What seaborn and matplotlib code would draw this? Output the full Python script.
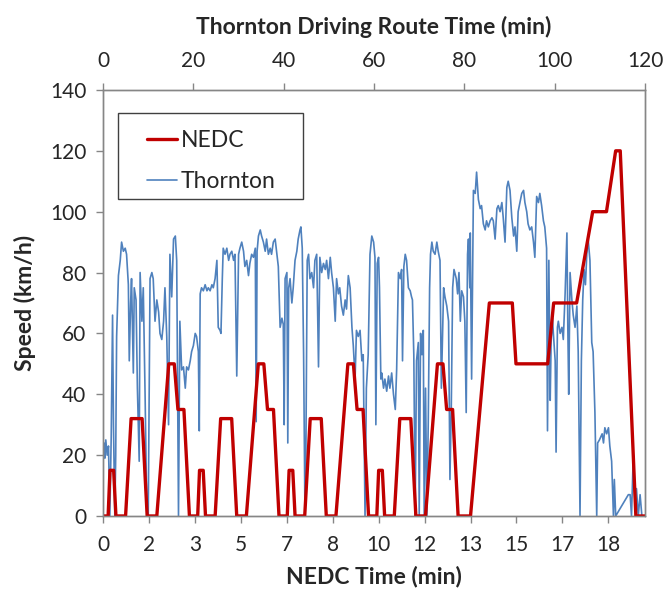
import numpy as np
import pandas as pd
import matplotlib
matplotlib.use("Agg")
import matplotlib.pyplot as plt
import seaborn as sns
from matplotlib.patches import Rectangle
from matplotlib.ticker import FuncFormatter, MultipleLocator


# NEDC cycle breakpoints: time (s) and speed (km/h)
nedc_s = [0, 11, 15, 23, 28, 49, 61, 85, 96, 117, 143, 155, 163, 176, 188,
          195, 206, 210, 218, 223, 244, 256, 280, 291, 312, 338, 350, 358, 371, 383,
          390, 401, 405, 413, 418, 439, 451, 475, 486, 507, 533, 545, 553, 566, 578,
          585, 596, 600, 608, 613, 634, 646, 670, 681, 702, 728, 740, 748, 761, 773,
          780, 800, 841, 891, 899, 968, 981, 1031, 1066, 1096, 1116, 1126, 1160, 1180]
nedc_v = [0, 0, 15, 15, 0, 0, 32, 32, 0, 0, 50, 50, 35, 35, 0,
          0, 0, 15, 15, 0, 0, 32, 32, 0, 0, 50, 50, 35, 35, 0,
          0, 0, 15, 15, 0, 0, 32, 32, 0, 0, 50, 50, 35, 35, 0,
          0, 0, 15, 15, 0, 0, 32, 32, 0, 0, 50, 50, 35, 35, 0,
          0, 0, 70, 70, 50, 50, 70, 70, 100, 100, 120, 120, 0, 0]

# Thornton route: time (min) and speed (km/h)
thornton_t = [0.0, 0.2, 0.4, 0.6, 0.9, 1.2, 1.5, 1.8, 2.1, 2.3, 2.6, 2.8, 3.0, 3.4, 3.8,
              4.1, 4.5, 4.9, 5.2, 5.6, 5.8, 6.1, 6.3, 6.7, 6.9, 7.3, 7.6, 8.0, 8.2, 8.6,
              8.9, 9.3, 9.7, 10.0, 10.4, 10.8, 11.1, 11.5, 11.9, 12.3, 12.6, 13.0, 13.4, 13.7, 14.1,
              14.5, 14.8, 15.2, 15.6, 16.0, 16.3, 16.7, 17.0, 17.4, 17.8, 18.2, 18.5, 18.9, 19.3, 19.6,
              20.0, 20.4, 20.7, 21.1, 21.3, 21.5, 21.8, 22.2, 22.6, 23.0, 23.3, 23.7, 24.1, 24.4, 24.8,
              25.2, 25.5, 25.9, 26.1, 26.4, 26.6, 27.0, 27.4, 27.8, 28.1, 28.5, 28.9, 29.2, 29.6, 30.0,
              30.3, 30.7, 31.1, 31.4, 31.8, 32.2, 32.5, 32.9, 33.3, 33.7, 33.9, 34.1, 34.4, 34.8, 35.1,
              35.5, 35.9, 36.2, 36.6, 37.0, 37.3, 37.7, 38.1, 38.5, 38.8, 39.2, 39.6, 39.9, 40.1, 40.3,
              40.7, 40.9, 41.1, 41.4, 41.8, 42.1, 42.5, 42.9, 43.2, 43.6, 43.8, 44.1, 44.4, 44.7, 44.9,
              45.2, 45.5, 45.8, 46.2, 46.6, 46.9, 47.3, 47.7, 48.0, 48.4, 48.8, 49.2, 49.5, 49.9, 50.3,
              50.6, 51.0, 51.4, 51.7, 52.1, 52.4, 52.8, 53.2, 53.6, 53.9, 54.3, 54.7, 55.1, 55.4, 55.8,
              56.1, 56.5, 56.9, 57.3, 57.6, 58.0, 58.3, 58.7, 59.1, 59.5, 59.9, 60.2, 60.4, 60.7, 61.0,
              61.2, 61.5, 61.7, 62.1, 62.4, 62.8, 63.2, 63.5, 63.9, 64.3, 64.7, 65.0, 65.4, 65.8, 66.1,
              66.3, 66.6, 66.9, 67.2, 67.6, 68.0, 68.3, 68.5, 68.8, 69.1, 69.4, 69.8, 70.0, 70.3, 70.6,
              70.9, 71.1, 71.4, 71.7, 72.0, 72.3, 72.5, 72.8, 73.1, 73.5, 73.9, 74.2, 74.6, 74.9, 75.4,
              75.7, 76.1, 76.5, 76.8, 77.1, 77.4, 77.7, 78.2, 78.5, 78.8, 79.1, 79.4, 79.8, 80.1, 80.4,
              80.7, 80.9, 81.2, 81.3, 81.6, 82.0, 82.4, 82.7, 83.1, 83.5, 83.8, 84.2, 84.6, 84.9, 85.3,
              85.7, 86.1, 86.4, 86.8, 87.2, 87.5, 87.9, 88.3, 88.6, 89.0, 89.4, 89.7, 90.1, 90.5, 90.9,
              91.2, 91.6, 91.9, 92.3, 92.7, 93.1, 93.4, 93.8, 94.1, 94.5, 94.9, 95.3, 95.6, 96.0, 96.4,
              96.7, 97.1, 97.5, 97.8, 98.2, 98.4, 98.7, 99.0, 99.2, 99.5, 99.7, 100.1, 100.3, 100.6, 100.8,
              101.2, 101.6, 101.9, 102.3, 102.7, 102.9, 103.1, 103.4, 103.8, 104.1, 104.5, 104.9, 105.2, 105.6, 105.9,
              106.2, 106.5, 106.8, 107.1, 107.4, 107.8, 108.2, 108.5, 108.9, 109.3, 109.5, 109.9, 110.2, 110.5, 110.8,
              111.1, 111.5, 111.9, 112.2, 112.6, 113.0, 113.2, 113.5, 116.3, 116.7, 117.0, 117.4, 117.8, 118.1, 118.5,
              118.9, 119.3]
thornton_v = [22, 24, 19, 25, 20, 23, 0, 26, 66, 30, 0, 20, 59, 79, 84,
              90, 87, 88, 86, 76, 51, 70, 78, 47, 75, 71, 42, 18, 80, 64,
              75, 40, 0, 0, 78, 80, 78, 64, 71, 67, 60, 58, 64, 75, 59,
              30, 86, 72, 91, 92, 84, 0, 64, 48, 49, 42, 49, 48, 51, 54,
              56, 60, 59, 54, 28, 73, 75, 74, 76, 74, 75, 74, 76, 75, 78,
              84, 62, 61, 60, 78, 88, 86, 88, 84, 86, 87, 84, 86, 46, 86,
              88, 90, 87, 82, 84, 79, 83, 86, 85, 88, 31, 87, 92, 94, 92,
              90, 87, 91, 86, 88, 86, 90, 91, 86, 82, 62, 65, 63, 30, 78,
              80, 24, 75, 78, 70, 75, 84, 87, 91, 94, 95, 88, 53, 0, 20,
              84, 86, 78, 80, 75, 84, 86, 49, 85, 80, 83, 81, 84, 78, 85,
              80, 75, 64, 78, 73, 75, 69, 66, 71, 68, 79, 75, 62, 56, 45,
              61, 59, 61, 51, 53, 0, 42, 53, 86, 92, 90, 85, 30, 83, 85,
              75, 45, 47, 42, 45, 41, 46, 42, 47, 40, 35, 48, 80, 78, 81,
              51, 82, 86, 84, 75, 74, 72, 71, 53, 0, 51, 57, 0, 60, 53,
              61, 0, 42, 0, 31, 75, 86, 90, 87, 86, 90, 87, 84, 42, 75,
              72, 69, 64, 12, 36, 75, 81, 78, 73, 80, 64, 74, 72, 64, 34,
              86, 91, 75, 93, 45, 107, 106, 113, 104, 101, 102, 96, 94, 97, 95,
              97, 98, 97, 91, 101, 102, 100, 103, 98, 90, 108, 110, 107, 98, 92,
              95, 87, 100, 103, 106, 107, 103, 100, 96, 94, 95, 90, 85, 105, 103,
              106, 102, 97, 95, 88, 28, 84, 38, 57, 65, 60, 51, 21, 62, 64,
              60, 62, 58, 73, 93, 62, 40, 80, 71, 66, 62, 69, 54, 0, 51,
              71, 81, 76, 86, 91, 84, 57, 54, 34, 0, 24, 25, 26, 27, 24,
              29, 27, 29, 23, 18, 0, 12, 0, 7, 7, 0, 20, 3, 9, 0,
              7, 0]

# tick labels of the NEDC axis: every 100 s shown in minutes
nedc_tick_s = [0, 100, 200, 300, 400, 500, 600, 700, 800, 900, 1000, 1100]

nedc = pd.DataFrame({'time': np.array(nedc_s) / 60.0, 'speed': nedc_v})
thornton = pd.DataFrame({'time': thornton_t, 'speed': thornton_v})

sns.set_theme(style='ticks')
plt.rcParams['font.family'] = ['Lato', 'DejaVu Sans']

red = '#C00000'
blue = '#4F81BD'
axis_grey = '#868686'

fig = plt.figure(figsize=(6.65, 5.95), dpi=100)
ax = fig.add_axes([0.155, 0.1328, 0.815, 0.716])
ax2 = ax.twiny()

# Thornton on the top axis, NEDC on the bottom axis (drawn above)
sns.lineplot(data=thornton, x='time', y='speed', ax=ax2, color=blue,
             linewidth=1.2, estimator=None, sort=False, label='Thornton')
sns.lineplot(data=nedc, x='time', y='speed', ax=ax, color=red,
             linewidth=2.4, estimator=None, sort=False, label='NEDC')
ax.set_zorder(ax2.get_zorder() + 1)
ax.patch.set_visible(False)

ax.set_xlim(0, 1180 / 60.0)
ax.set_ylim(0, 140)
ax.yaxis.set_major_locator(MultipleLocator(20))
ax.set_xticks(np.array(nedc_tick_s) / 60.0)
ax.xaxis.set_major_formatter(FuncFormatter(lambda v, p: '%.0f' % v))
ax2.set_xlim(0, 120)
ax2.xaxis.set_major_locator(MultipleLocator(20))

ax.set_xlabel('NEDC Time (min)', fontsize=16.5, fontweight='bold', labelpad=7)
ax.set_ylabel('Speed (km/h)', fontsize=16.5, fontweight='bold', labelpad=10)
ax2.set_xlabel('Thornton Driving Route Time (min)', fontsize=16.5,
               fontweight='bold', labelpad=12)

for a in (ax, ax2):
    a.tick_params(axis='both', labelsize=15, length=5, width=1,
                  color=axis_grey, direction='out', pad=9)
    for sp in a.spines.values():
        sp.set_visible(True)
        sp.set_color(axis_grey)
        sp.set_linewidth(1)
ax.tick_params(axis='y', pad=7)

# combined legend, frame drawn separately (Excel style wide box)
if ax2.get_legend() is not None:
    ax2.get_legend().remove()
h1, l1 = ax.get_legend_handles_labels()
h2, l2 = ax2.get_legend_handles_labels()
leg = ax.legend(h1 + h2, l1 + l2, loc='upper left',
                bbox_to_anchor=(0.081, 0.907), fontsize=16.5, frameon=False,
                handlelength=1.3, handletextpad=0.17, labelspacing=0.88,
                borderpad=0, borderaxespad=0)
ax.add_patch(Rectangle((0.0277, 0.744), 0.341, 0.202, transform=ax.transAxes,
                       facecolor='white', edgecolor='#404040', linewidth=1,
                       zorder=4))
leg.set_zorder(5)

fig.savefig('out.png', dpi=100)
